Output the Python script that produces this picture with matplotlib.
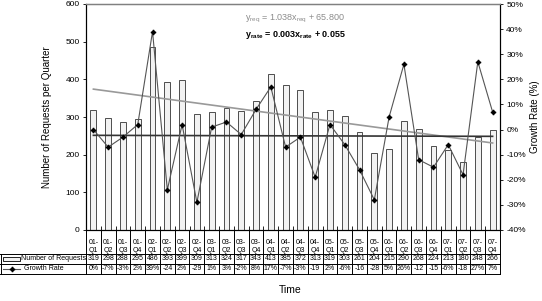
import numpy as np
import matplotlib
matplotlib.use("Agg")
import matplotlib.pyplot as plt
from matplotlib.transforms import blended_transform_factory
from matplotlib.lines import Line2D
from matplotlib.patches import Rectangle

plt.rcParams['font.family'] = ['Liberation Sans', 'DejaVu Sans']
plt.rcParams['mathtext.fontset'] = 'custom'
plt.rcParams['mathtext.rm'] = 'Liberation Sans'
plt.rcParams['mathtext.bf'] = 'Liberation Sans:bold'
plt.rcParams['mathtext.it'] = 'Liberation Sans:italic'

quarters = ["01-\nQ1", "01-\nQ2", "01-\nQ3", "01-\nQ4", "02-\nQ1", "02-\nQ2", "02-\nQ3", "02-\nQ4",
            "03-\nQ1", "03-\nQ2", "03-\nQ3", "03-\nQ4", "04-\nQ1", "04-\nQ2", "04-\nQ3", "04-\nQ4",
            "05-\nQ1", "05-\nQ2", "05-\nQ3", "05-\nQ4", "06-\nQ1", "06-\nQ2", "06-\nQ3", "06-\nQ4",
            "07-\nQ1", "07-\nQ2", "07-\nQ3", "07-\nQ4"]
requests = [319, 298, 288, 295, 486, 393, 399, 309, 313, 324, 317, 343, 413, 385,
            372, 313, 319, 303, 261, 204, 215, 290, 268, 224, 213, 180, 248, 266]
growth = [0.00, -0.07, -0.03, 0.02, 0.39, -0.24, 0.02, -0.29, 0.01, 0.03, -0.02, 0.08, 0.17, -0.07,
          -0.03, -0.19, 0.02, -0.06, -0.16, -0.28, 0.05, 0.26, -0.12, -0.15, -0.06, -0.18, 0.27, 0.07]
growth_labels = ["0%", "-7%", "-3%", "2%", "39%", "-24", "2%", "-29", "1%", "3%", "-2%", "8%", "17%", "-7%",
                 "-3%", "-19", "2%", "-6%", "-16", "-28", "5%", "26%", "-12", "-15", "-6%", "-18", "27%", "7%"]
trend_req = [374, 231]        # trendline values at first / last quarter
trend_rate = [-0.023, -0.027]

W, H = 542, 301
fig = plt.figure(figsize=(W / 100, H / 100), dpi=100)
L, R, T, B = 86, 500, 4, 230
ax = fig.add_axes([L / W, 1 - B / H, (R - L) / W, (B - T) / H])
x = np.arange(1, len(requests) + 1)
ax.set_xlim(0.5, len(requests) + 0.5)
ax.set_ylim(0, 600)
ax.set_yticks(range(0, 601, 100))
ax.bar(x, requests, width=0.4, color='#f2f2f2', edgecolor='#4d4d4d', linewidth=0.7, zorder=2)
ax.plot([x[0], x[-1]], trend_req, color='#999999', lw=1.2, zorder=3)
ax.set_xticks(np.arange(0.5, len(requests) + 1, 1))
ax.set_xticklabels([])
ax.tick_params(axis='x', length=3, width=0.6, direction='in')
ax.tick_params(axis='y', labelsize=6, length=2.5, width=0.6, pad=2)
ax.set_ylabel("Number of Requests per Quarter", fontsize=7, labelpad=10)
ax.spines['top'].set_color('#808080')
ax.spines['top'].set_linewidth(1.0)

ax2 = ax.twinx()
ax2.set_ylim(-0.4, 0.5)
ax2.set_yticks(np.arange(-0.4, 0.51, 0.1))
ax2.set_yticklabels([f"{int(round(v * 100))}%" for v in np.arange(-0.4, 0.51, 0.1)])
ax2.tick_params(axis='y', labelsize=6, length=2.5, width=0.6, pad=2)
ax2.plot(x, growth, color='#555555', lw=0.8, marker=(4, 1, 0), markersize=3.5,
         markerfacecolor='black', markeredgecolor='black', zorder=4)
ax2.plot([x[0], x[-1]], trend_rate, color='#333333', lw=1.2, zorder=3)
ax2.set_ylabel("Growth Rate (%)", fontsize=7, labelpad=3)
ax2.spines['top'].set_color('#808080')

ax2.text(0.383, 0.935, r"$\mathrm{y_{req}}$ = 1.038$\mathrm{x_{req}}$ + 65.800", transform=ax.transAxes,
         fontsize=6.5, color='#8c8c8c', va='center')
ax2.text(0.383, 0.862, r"$\mathbf{y_{rate}}$ = 0.003$\mathbf{x_{rate}}$ + 0.055", transform=ax.transAxes,
         fontsize=6.5, color='black', fontweight='bold', va='center')

# data table
tr = blended_transform_factory(ax.transData, fig.transFigure)
def fy(py):
    return 1 - py / H
row_top, row_mid, row_bot, head_top = 254, 264, 274, 230
edges = np.arange(0.5, len(requests) + 1, 1)
for e in edges:
    fig.add_artist(Line2D([e, e], [fy(head_top), fy(row_bot)], transform=tr, color='black', lw=0.7))
for py in (row_top, row_mid, row_bot):
    fig.add_artist(Line2D([0, R / W], [fy(py), fy(py)], transform=fig.transFigure, color='black', lw=0.7))
fig.add_artist(Line2D([0.5 / W, 0.5 / W], [fy(row_top), fy(row_bot)], transform=fig.transFigure, color='black', lw=0.7))
for xi, q, r, g in zip(x, quarters, requests, growth_labels):
    a, b = q.split("\n")
    fig.text(xi, fy(242), a, transform=tr, ha='center', va='center', fontsize=5)
    fig.text(xi, fy(250), b, transform=tr, ha='center', va='center', fontsize=5)
    fig.text(xi, fy(259), str(r), transform=tr, ha='center', va='center', fontsize=5)
    fig.text(xi, fy(269), g, transform=tr, ha='center', va='center', fontsize=5)
# row labels with legend keys
fig.add_artist(Rectangle((3 / W, fy(261)), 17 / W, 4 / H, transform=fig.transFigure,
                         facecolor='#f2f2f2', edgecolor='black', lw=0.6))
fig.text(21 / W, fy(259), "Number of Requests", fontsize=5.0, va='center')
fig.add_artist(Line2D([3 / W, 20 / W], [fy(269), fy(269)], transform=fig.transFigure, color='#555555', lw=0.8))
fig.add_artist(Line2D([11.5 / W], [fy(269)], transform=fig.transFigure, marker=(4, 1, 0), markersize=3.5,
                      color='black', linestyle='none'))
fig.text(24 / W, fy(269), "Growth Rate", fontsize=5.0, va='center')
fig.text(290 / W, fy(290), "Time", fontsize=7.5, ha='center', va='center')

fig.savefig("out.png", dpi=100)
